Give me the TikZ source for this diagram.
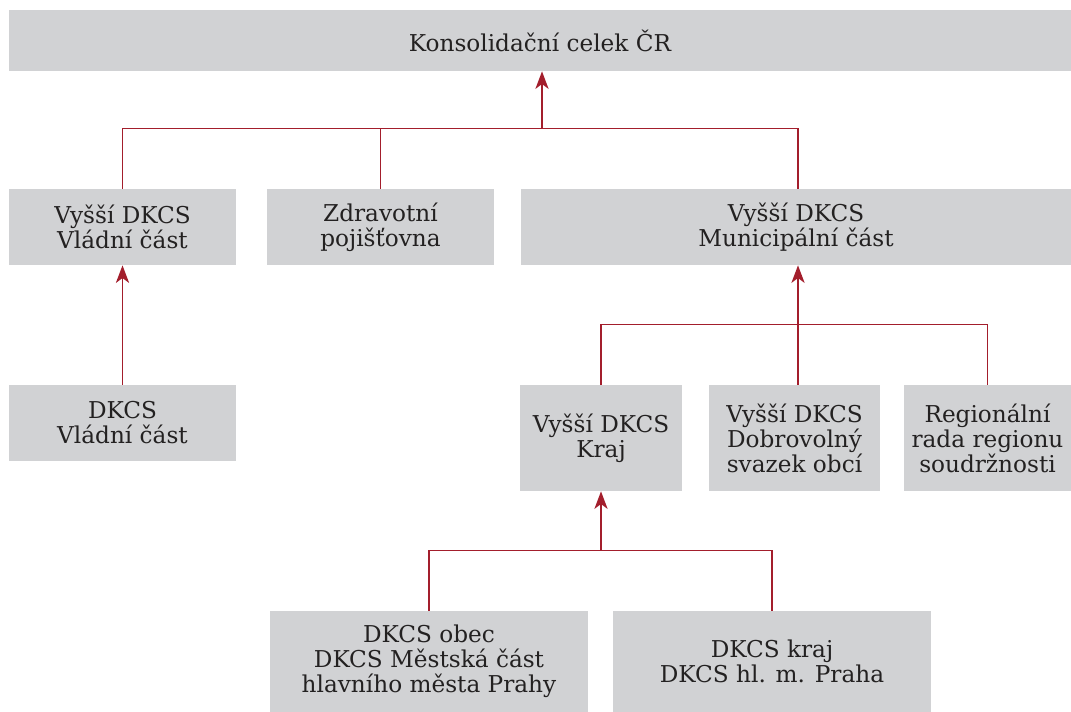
\documentclass[tikz,border=0pt]{standalone}
\usepackage{fontspec}
\setmainfont{DejaVu Serif}
\usetikzlibrary{arrows.meta}
\definecolor{linkred}{RGB}{163,30,44}
\definecolor{boxgray}{RGB}{209,210,212}
\definecolor{textgray}{RGB}{35,33,33}

\begin{document}
\begin{tikzpicture}[x=0.02cm,y=-0.02cm,>={Stealth[length=10pt,width=7.5pt,inset=2.8pt]},
    font=\fontsize{13.2}{14.2}\selectfont,
    box/.style={fill=boxgray,text=textgray,align=center,inner sep=0pt},
    link/.style={draw=linkred,line width=1.05pt}]
    
    \useasboundingbox (0,0) rectangle (1071,712);
    
    \node [box,minimum width=21.24cm,minimum height=1.22cm] (top) at (540,40.5) {Konsolidační celek ČR};
    
    \node [box,minimum width=4.54cm,minimum height=1.52cm] (vgov) at (122.5,227) {Vyšší DKCS\\Vládní část};
    \node [box,minimum width=4.54cm,minimum height=1.52cm] (zp) at (380.5,227) {Zdravotní\\pojišťovna};
    \node [box,minimum width=11cm,minimum height=1.52cm] (vmun) at (796,227) {Vyšší DKCS\\Municipální část};
    
    \node [box,minimum width=4.54cm,minimum height=1.52cm] (gov) at (122.5,423) {DKCS\\Vládní část};
    \node [box,minimum width=3.24cm,minimum height=2.12cm] (kraj) at (601,438) {Vyšší DKCS\\Kraj};
    \node [box,minimum width=3.42cm,minimum height=2.12cm] (dso) at (794.5,438) {Vyšší DKCS\\Dobrovolný\\svazek obcí};
    \node [box,minimum width=3.34cm,minimum height=2.12cm] (rrrs) at (987.5,438) {Regionální\\rada regionu\\soudržnosti};
    
    \node [box,minimum width=6.36cm,minimum height=2.02cm] (obec) at (429,661.5) {DKCS obec\\DKCS Městská část\\hlavního města Prahy};
    \node [box,minimum width=6.36cm,minimum height=2.02cm] (hmp) at (772,661.5) {DKCS kraj\\DKCS hl. m. Praha};
    
    \coordinate (j1) at (542,128.5);
    \coordinate (j2) at (798,324.5);
    \coordinate (j3) at (601,550.5);
    
    \draw [link] (vgov.north) |- (j1) -| (j2 |- vmun.north);
    \draw [link] (zp.north) |- (j1);
    \draw [link,->] (j1) -- (j1 |- top.south);
    \draw [link,->] (gov.north) -- (vgov.south);
    
    \draw [link] (kraj.north) |- (j2) -| (rrrs.north);
    \draw [link,->] (j2 |- dso.north) -- (j2 |- vmun.south);
    
    \draw [link] (obec.north) |- (j3) -| (hmp.north);
    \draw [link,->] (j3) -- (kraj.south);
        
\end{tikzpicture}
\end{document}
